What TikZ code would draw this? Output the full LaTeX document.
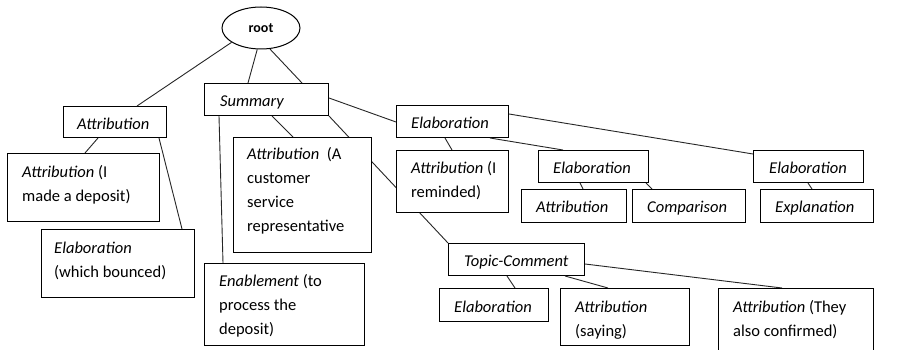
\documentclass[tikz,border=0pt]{standalone}
\usepackage{fontspec}
\setmainfont{Carlito}
\usetikzlibrary{shapes.geometric,calc}
\newcommand\boxstrut{\rule{0pt}{14pt}}
\tikzset{
  relbox/.style={draw=black, line width=1pt, fill=white, rectangle,
    anchor=north west, inner sep=0pt},
  boxtext/.style={anchor=north west, inner sep=0pt, align=left,
    font=\fontsize{16.5}{24}\selectfont},
  link/.style={draw=black!85, line width=0.9pt},
}
\begin{document}
\begin{tikzpicture}[x=1pt,y=-1pt]
\fill[white] (0,0) rectangle (900,350);

% root of the tree
\node[draw=black, line width=1pt, ellipse, minimum width=78pt, minimum height=42pt,
      inner sep=0pt, font=\fontsize{14}{16}\selectfont\bfseries] (root) at (261,28) {root};

% relation boxes (outlines only)
\node[relbox, minimum width=103pt, minimum height=31pt]  (attrA)  at (63,106)  {};
\node[relbox, minimum width=124pt, minimum height=32pt]  (summ)   at (204,83)  {};
\node[relbox, minimum width=112pt, minimum height=32pt]  (elabR)  at (396,105) {};

% connectors, drawn below the boxes that cover them
\draw[link] (root.206) -- ($(attrA.north west)+(74,0)$);
\draw[link] (root.260) -- ($(summ.north west)+(44,0)$);
\draw[link] (root.293) -- ($(summ.north west)+(98,0)$);
\draw[link] ($(attrA.south west)+(35,0)$) -- (85,153) coordinate (attrItop);
\draw[link] ($(attrA.south west)+(96,0)$) -- (182,229) coordinate (elabBtop);
\draw[link] ($(summ.south west)+(68,0)$) -- (293,137) coordinate (custtop);
\draw[link] ($(summ.south west)+(15,0)$) -- (223,263) coordinate (enabtop);
\draw[link] (summ.south east) -- (448,243) coordinate (topictop);
\draw[link] ($(summ.north east)+(0,15)$) -- ($(elabR.north west)+(0,17)$);
\draw[link] ($(elabR.south west)+(49,0)$) -- (452,150) coordinate (remindtop);
\draw[link] ($(elabR.south west)+(94,0)$) -- (563,150) coordinate (elabMtop);
\draw[link] ($(elabR.north east)+(0,9)$) -- (753,154) coordinate (elabFleft);

\node[relbox, minimum width=152pt, minimum height=68pt]  (attrI)  at (7,153)   {};
\node[relbox, minimum width=153pt, minimum height=68pt]  (elabB)  at (41,229)  {};
\node[relbox, minimum width=138pt, minimum height=115pt] (cust)   at (233,137) {};
\node[relbox, minimum width=160pt, minimum height=82pt]  (enab)   at (204,263) {};
\node[relbox, minimum width=112pt, minimum height=62pt]  (remind) at (396,150) {};
\node[relbox, minimum width=110pt, minimum height=32pt]  (elabM)  at (538,150) {};
\node[relbox, minimum width=110pt, minimum height=32pt]  (elabF)  at (753,150) {};
\node[relbox, minimum width=136pt, minimum height=32pt]  (topic)  at (448,243) {};

\draw[link] ($(elabM.south west)+(42,0)$) -- (583,189) coordinate (attrStop);
\draw[link] ($(elabM.south west)+(108,0)$) -- (652,189) coordinate (comptop);
\draw[link] ($(elabF.south west)+(55,0)$) -- (812,189) coordinate (expltop);
\draw[link] ($(topic.south west)+(59,0)$) -- (515,288) coordinate (elabTtop);
\draw[link] ($(topic.south west)+(117,0)$) -- (608,288) coordinate (sayingtop);
\draw[link] ($(topic.north east)+(0,21)$) -- (782,288) coordinate (theytop);

\node[relbox, minimum width=105pt, minimum height=33pt]  (attrS)  at (521,189) {};
\node[relbox, minimum width=113pt, minimum height=33pt]  (comp)   at (632,189) {};
\node[relbox, minimum width=113pt, minimum height=33pt]  (expl)   at (760,189) {};
\node[relbox, minimum width=109pt, minimum height=33pt]  (elabT)  at (439,288) {};
\node[relbox, minimum width=129pt, minimum height=57pt]  (saying) at (560,288) {};
\node[relbox, minimum width=155pt, minimum height=70pt]  (they)   at (718,288) {};

% box texts: first baseline 23pt below the top edge, 15pt in from the left
\node[boxtext] (attrA-t)  at ($(attrA.north west)+(14,9)$)  {\boxstrut\textit{Attribution}};
\node[boxtext] (summ-t)   at ($(summ.north west)+(16,9)$)   {\boxstrut\textit{Summary}};
\node[boxtext] (elabR-t)  at ($(elabR.north west)+(15,9)$)  {\boxstrut\textit{Elaboration}};
\node[boxtext] (attrI-t)  at ($(attrI.north west)+(15,10)$) {\boxstrut\textit{Attribution} (I\\made a deposit)};
\node[boxtext] (elabB-t)  at ($(elabB.north west)+(13,10)$) {\boxstrut\textit{Elaboration}\\(which bounced)};
\node[boxtext] (cust-t)   at ($(cust.north west)+(14,8)$)   {\boxstrut\textit{Attribution}\ \ (A\\customer\\service\\representative};
\node[boxtext] (enab-t)   at ($(enab.north west)+(15,9)$)   {\boxstrut\textit{Enablement} (to\\process the\\deposit)};
\node[boxtext] (remind-t) at ($(remind.north west)+(15,9)$) {\boxstrut\textit{Attribution} (I\\reminded)};
\node[boxtext] (elabM-t)  at ($(elabM.north west)+(15,9)$)  {\boxstrut\textit{Elaboration}};
\node[boxtext] (elabF-t)  at ($(elabF.north west)+(16,9)$)  {\boxstrut\textit{Elaboration}};
\node[boxtext] (attrS-t)  at ($(attrS.north west)+(15,9)$)  {\boxstrut\textit{Attribution}};
\node[boxtext] (comp-t)   at ($(comp.north west)+(15,9)$)   {\boxstrut\textit{Comparison}};
\node[boxtext] (expl-t)   at ($(expl.north west)+(15,9)$)   {\boxstrut\textit{Explanation}};
\node[boxtext] (topic-t)  at ($(topic.north west)+(16,9)$)  {\boxstrut\textit{Topic-Comment}};
\node[boxtext] (elabT-t)  at ($(elabT.north west)+(15,10)$) {\boxstrut\textit{Elaboration}};
\node[boxtext] (saying-t) at ($(saying.north west)+(15,10)$) {\boxstrut\textit{Attribution}\\(saying)};
\node[boxtext] (they-t)   at ($(they.north west)+(15,10)$)  {\boxstrut\textit{Attribution} (They\\also confirmed)};

\pgfresetboundingbox
\useasboundingbox (0,0) rectangle (900,350);
\end{tikzpicture}
\end{document}
